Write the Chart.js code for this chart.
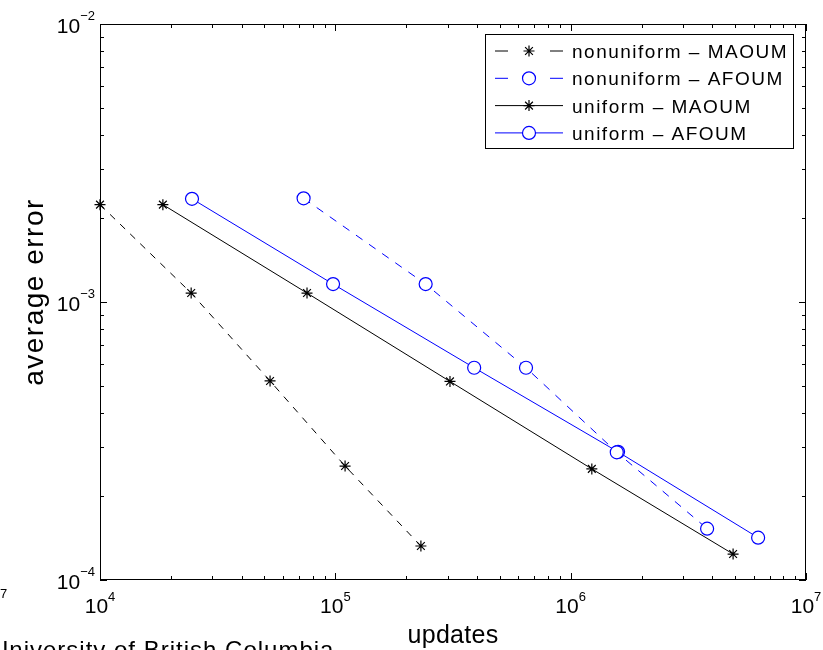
<!DOCTYPE html>
<html>
<head>
<meta charset="utf-8">
<script src="https://cdn.jsdelivr.net/npm/chart.js@4/dist/chart.umd.min.js"></script>
<style>
  html, body { margin: 0; padding: 0; background: #fff; }
  canvas { display: block; }
</style>
</head>
<body>
<canvas id="c" width="823" height="650"></canvas>
<script>
// Series names, in legend order
const seriesNames = ['nonuniform – MAOUM', 'nonuniform – AFOUM', 'uniform – MAOUM', 'uniform – AFOUM'];

// Number of updates (x) and average error (y) for each method
const nonuniformMaoumUpdates = [10000, 24400, 52800, 110000, 231000];
const nonuniformMaoumError   = [2.24e-3, 1.077e-3, 5.2e-4, 2.57e-4, 1.325e-4];

const nonuniformAfoumUpdates = [73300, 242000, 646000, 1570000, 3800000];
const nonuniformAfoumError   = [2.36e-3, 1.16e-3, 5.8e-4, 2.88e-4, 1.53e-4];

const uniformMaoumUpdates = [18500, 75800, 307000, 1230000, 4900000];
const uniformMaoumError   = [2.24e-3, 1.077e-3, 5.18e-4, 2.51e-4, 1.24e-4];

const uniformAfoumUpdates = [24600, 97800, 389000, 1590000, 6260000];
const uniformAfoumError   = [2.35e-3, 1.16e-3, 5.8e-4, 2.89e-4, 1.42e-4];

// Decade tick labels (powers of ten)
const xTickExponents = [4, 5, 6, 7];
const yTickExponents = [-4, -3, -2];

const xTitle = 'updates';
const yTitle = 'average error';
const footerText = 'University of British Columbia';
const edgeFragment = '7';

const FONT = '"Liberation Sans", Arial, Helvetica, sans-serif';

function toPoints(xs, ys) { return xs.map((x, i) => ({ x: x, y: ys[i] })); }

const seriesStyle = [
  { color: '#000000', dash: [7, 7], marker: 'star',   radius: 5.5 },
  { color: '#0000ff', dash: [8, 8], marker: 'circle', radius: 6.5 },
  { color: '#000000', dash: [],     marker: 'star',   radius: 5.5 },
  { color: '#0000ff', dash: [],     marker: 'circle', radius: 6.5 }
];

const seriesData = [
  toPoints(nonuniformMaoumUpdates, nonuniformMaoumError),
  toPoints(nonuniformAfoumUpdates, nonuniformAfoumError),
  toPoints(uniformMaoumUpdates, uniformMaoumError),
  toPoints(uniformAfoumUpdates, uniformAfoumError)
];

const datasets = seriesNames.map((name, i) => {
  const s = seriesStyle[i];
  return {
    label: name,
    data: seriesData[i],
    showLine: true,
    borderColor: s.color,
    borderWidth: 1,
    borderDash: s.dash,
    pointStyle: s.marker,
    pointRadius: s.radius,
    pointHoverRadius: s.radius,
    pointBorderColor: s.color,
    pointBackgroundColor: '#ffffff',
    pointBorderWidth: s.marker === 'star' ? 1.2 : 1.2,
    clip: false
  };
});

function logTicks(lo, hi) {
  const out = [];
  for (let k = lo; k < hi; k++) {
    for (let m = 1; m <= 9; m++) out.push({ v: m * Math.pow(10, k), major: m === 1 });
  }
  out.push({ v: Math.pow(10, hi), major: true });
  return out;
}

function powerLabel(ctx, exp) {
  return exp < 0 ? '\u2212' + Math.abs(exp) : String(exp);
}

function drawMarker(ctx, style, x, y, r, color) {
  ctx.save();
  ctx.strokeStyle = color;
  ctx.lineWidth = 1.2;
  ctx.setLineDash([]);
  ctx.beginPath();
  if (style === 'circle') {
    ctx.arc(x, y, r, 0, Math.PI * 2);
    ctx.fillStyle = '#fff';
    ctx.fill();
  } else {
    for (let a = 0; a < 4; a++) {
      const t = a * Math.PI / 4;
      ctx.moveTo(x - Math.cos(t) * r, y - Math.sin(t) * r);
      ctx.lineTo(x + Math.cos(t) * r, y + Math.sin(t) * r);
    }
  }
  ctx.stroke();
  ctx.restore();
}

const axesDecor = {
  id: 'axesDecor',
  beforeDraw(chart) {
    const ctx = chart.ctx;
    ctx.save();
    ctx.fillStyle = '#fff';
    ctx.fillRect(0, 0, chart.width, chart.height);
    ctx.restore();
  },
  beforeDatasetsDraw(chart) {
    const { ctx, chartArea: a, scales } = chart;
    const xs = scales.x, ys = scales.y;
    ctx.save();
    ctx.strokeStyle = '#000';
    ctx.lineWidth = 1;

    // frame
    ctx.strokeRect(a.left + 0.5, a.top + 0.5, a.right - a.left - 1, a.bottom - a.top - 1);

    // inward ticks, bottom and top
    ctx.beginPath();
    logTicks(xTickExponents[0], xTickExponents[xTickExponents.length - 1]).forEach(t => {
      const px = Math.round(xs.getPixelForValue(t.v)) + 0.5;
      const len = t.major ? 7 : 4;
      ctx.moveTo(px, a.bottom); ctx.lineTo(px, a.bottom - len);
      ctx.moveTo(px, a.top); ctx.lineTo(px, a.top + len);
    });
    // inward ticks, left and right
    logTicks(yTickExponents[0], yTickExponents[yTickExponents.length - 1]).forEach(t => {
      const py = Math.round(ys.getPixelForValue(t.v)) + 0.5;
      const len = t.major ? 7 : 4;
      ctx.moveTo(a.left, py); ctx.lineTo(a.left + len, py);
      ctx.moveTo(a.right, py); ctx.lineTo(a.right - len, py);
    });
    ctx.stroke();

    // tick labels: 10 with a raised exponent
    ctx.fillStyle = '#000';
    ctx.textBaseline = 'alphabetic';
    const baseFont = '21px ' + FONT;
    const expFont = '13px ' + FONT;
    xTickExponents.forEach(e => {
      const px = xs.getPixelForValue(Math.pow(10, e));
      ctx.font = baseFont; const wb = ctx.measureText('10').width;
      ctx.font = expFont; const we = ctx.measureText(powerLabel(ctx, e)).width;
      const x0 = px - (wb + we) / 2;
      ctx.font = baseFont; ctx.textAlign = 'left';
      ctx.fillText('10', x0, a.bottom + 33);
      ctx.font = expFont;
      ctx.fillText(powerLabel(ctx, e), x0 + wb, a.bottom + 21);
    });
    yTickExponents.forEach(e => {
      const py = ys.getPixelForValue(Math.pow(10, e));
      ctx.font = baseFont; const wb = ctx.measureText('10').width;
      ctx.font = expFont; const we = ctx.measureText(powerLabel(ctx, e)).width;
      const x0 = a.left - 5 - (wb + we);
      ctx.font = baseFont; ctx.textAlign = 'left';
      ctx.fillText('10', x0, py + 9);
      ctx.font = expFont;
      ctx.fillText(powerLabel(ctx, e), x0 + wb, py - 4);
    });

    // axis titles
    ctx.textAlign = 'center';
    ctx.font = '25px ' + FONT;
    ctx.letterSpacing = '0.3px';
    ctx.fillText(xTitle, (a.left + a.right) / 2, 643);
    ctx.save();
    ctx.translate(43, (a.top + a.bottom) / 2 - 10);
    ctx.rotate(-Math.PI / 2);
    ctx.font = '28px ' + FONT;
    ctx.letterSpacing = '1.5px';
    ctx.fillText(yTitle, 0, 0);
    ctx.restore();

    // text at the page edges
    ctx.textAlign = 'left';
    ctx.font = '24px ' + FONT;
    ctx.letterSpacing = '1px';
    ctx.fillText(footerText, -9, 658);
    ctx.letterSpacing = '0px';
    ctx.font = '13px ' + FONT;
    ctx.fillText(edgeFragment, 0, 598);
    ctx.restore();
  },
  afterDatasetsDraw(chart) {
    const ctx = chart.ctx;
    ctx.save();
    // legend box
    const bx = 485, by = 34, bw = 308, bh = 114;
    ctx.fillStyle = '#fff';
    ctx.fillRect(bx, by, bw, bh);
    ctx.strokeStyle = '#000';
    ctx.lineWidth = 1;
    ctx.strokeRect(bx + 0.5, by + 0.5, bw, bh);
    ctx.font = '19px ' + FONT;
    ctx.letterSpacing = '1.5px';
    ctx.textAlign = 'left';
    ctx.textBaseline = 'alphabetic';
    seriesNames.forEach((name, i) => {
      const s = seriesStyle[i];
      const ry = 51 + i * 27.3;
      ctx.save();
      ctx.strokeStyle = s.color;
      ctx.lineWidth = 1;
      if (s.dash.length) {
        ctx.beginPath();
        ctx.moveTo(495, ry); ctx.lineTo(508, ry);
        ctx.moveTo(550, ry); ctx.lineTo(563, ry);
        ctx.stroke();
      } else {
        ctx.beginPath();
        ctx.moveTo(495, ry); ctx.lineTo(563, ry);
        ctx.stroke();
      }
      ctx.restore();
      drawMarker(ctx, s.marker, 529, ry, s.radius, s.color);
      ctx.fillStyle = '#000';
      ctx.fillText(name, 572, ry + 7);
    });
    ctx.restore();
  }
};

new Chart(document.getElementById('c'), {
  type: 'scatter',
  data: { datasets: datasets },
  options: {
    responsive: false,
    animation: false,
    devicePixelRatio: 1,
    layout: { padding: { left: 100, right: 17, top: 24, bottom: 70 } },
    plugins: { legend: { display: false }, tooltip: { enabled: false } },
    scales: {
      x: { type: 'logarithmic', min: Math.pow(10, xTickExponents[0]), max: Math.pow(10, xTickExponents[xTickExponents.length - 1]), display: false },
      y: { type: 'logarithmic', min: Math.pow(10, yTickExponents[0]), max: Math.pow(10, yTickExponents[yTickExponents.length - 1]), display: false }
    }
  },
  plugins: [axesDecor]
});
</script>
</body>
</html>
